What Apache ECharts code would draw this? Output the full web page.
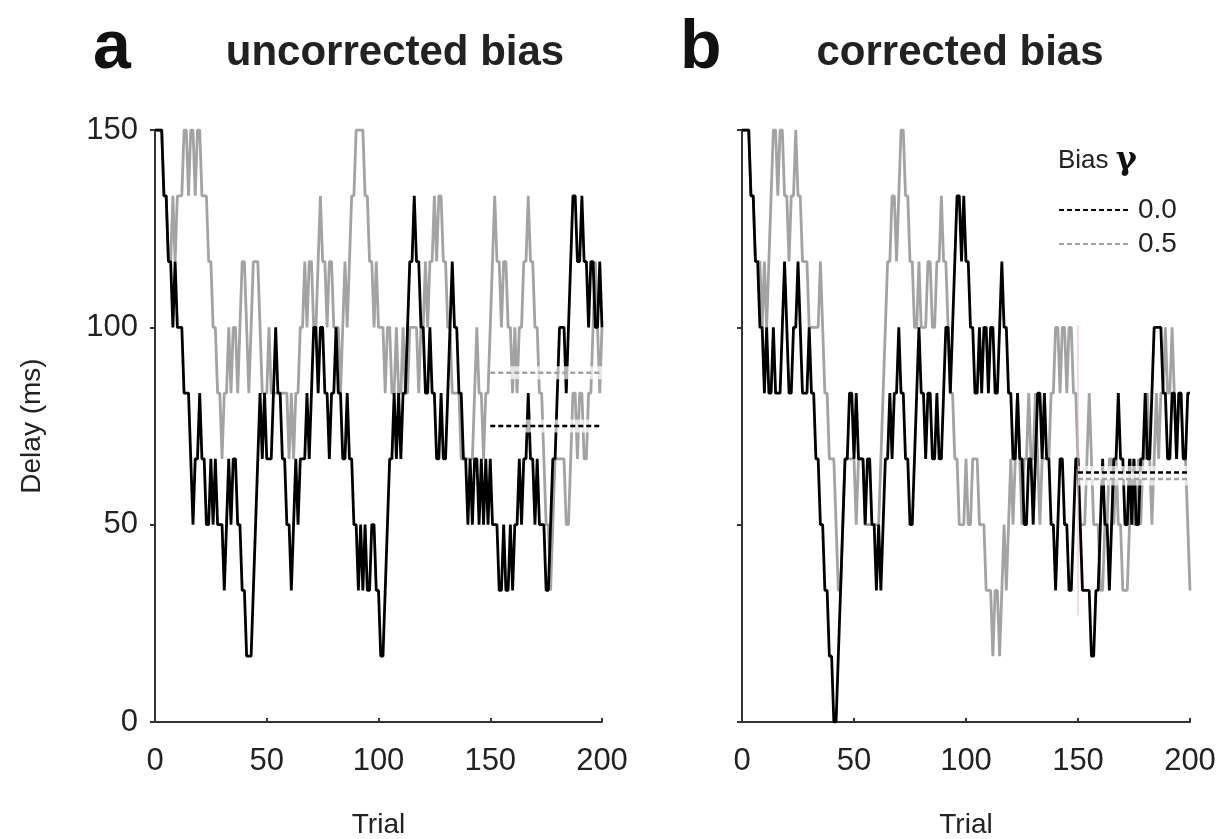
<!DOCTYPE html>
<html lang="en">
<head>
<meta charset="UTF-8">
<title>Staircase delay</title>
<script src="https://cdn.jsdelivr.net/npm/echarts@6/dist/echarts.min.js"></script>
<style>
  html, body { margin: 0; padding: 0; background: #fff; }
  #chart { width: 1220px; height: 839px; }
</style>
</head>
<body>
<div id="chart"></div>
<script>
// delay (ms) on each trial 0..200
var uncorrBias00 = [
  150,150,150,150,133.33,133.33,116.67,116.67,100,116.67,
  100,100,100,83.33,83.33,83.33,66.67,50,66.67,66.67,
  83.33,66.67,66.67,50,50,66.67,50,66.67,50,50,
  50,33.33,50,66.67,50,66.67,66.67,50,50,33.33,
  33.33,16.67,16.67,16.67,33.33,50,66.67,83.33,66.67,83.33,
  66.67,66.67,66.67,83.33,100,83.33,83.33,66.67,66.67,50,
  50,33.33,50,66.67,50,66.67,66.67,66.67,83.33,66.67,
  83.33,100,100,83.33,100,100,83.33,83.33,66.67,83.33,
  83.33,100,83.33,83.33,66.67,66.67,83.33,66.67,66.67,50,
  50,33.33,50,33.33,50,33.33,33.33,50,50,33.33,
  33.33,16.67,16.67,33.33,50,66.67,66.67,83.33,66.67,83.33,
  66.67,83.33,83.33,100,116.67,116.67,133.33,116.67,116.67,100,
  100,83.33,83.33,100,83.33,83.33,66.67,66.67,83.33,66.67,
  66.67,83.33,100,116.67,100,100,83.33,83.33,66.67,66.67,
  50,66.67,50,66.67,66.67,50,66.67,50,66.67,50,
  66.67,50,50,50,33.33,33.33,50,33.33,33.33,50,
  33.33,50,50,66.67,50,66.67,66.67,83.33,66.67,66.67,
  50,66.67,50,50,50,33.33,33.33,50,66.67,66.67,
  83.33,100,100,100,83.33,100,116.67,133.33,133.33,116.67,
  116.67,133.33,116.67,116.67,100,116.67,116.67,100,100,116.67,
  100
];
var uncorrBias05 = [
  150,150,150,150,133.33,133.33,116.67,116.67,133.33,116.67,
  133.33,133.33,133.33,150,150,133.33,150,150,133.33,150,
  150,133.33,133.33,133.33,116.67,116.67,100,100,83.33,83.33,
  66.67,83.33,83.33,100,83.33,100,100,83.33,100,116.67,
  116.67,100,83.33,100,116.67,116.67,116.67,100,83.33,83.33,
  83.33,100,83.33,83.33,83.33,83.33,83.33,83.33,83.33,83.33,
  66.67,83.33,66.67,83.33,83.33,100,100,116.67,100,116.67,
  116.67,100,100,116.67,133.33,116.67,116.67,100,116.67,116.67,
  100,100,100,83.33,100,116.67,100,116.67,133.33,133.33,
  150,150,150,150,133.33,133.33,116.67,116.67,100,116.67,
  100,100,100,83.33,100,100,83.33,83.33,100,83.33,
  83.33,100,83.33,83.33,100,100,100,100,83.33,100,
  100,116.67,100,116.67,116.67,133.33,116.67,133.33,133.33,116.67,
  116.67,100,100,83.33,83.33,83.33,83.33,66.67,66.67,66.67,
  66.67,66.67,66.67,83.33,100,83.33,83.33,66.67,83.33,83.33,
  100,116.67,133.33,116.67,116.67,100,116.67,116.67,100,100,
  83.33,100,83.33,100,100,116.67,116.67,133.33,116.67,116.67,
  100,100,83.33,83.33,66.67,50,50,33.33,50,66.67,
  66.67,66.67,66.67,66.67,50,50,66.67,83.33,83.33,66.67,
  83.33,83.33,66.67,66.67,83.33,83.33,100,116.67,100,83.33,
  100
];
var corrBias00 = [
  150,150,150,150,133.33,133.33,116.67,116.67,100,100,
  83.33,100,83.33,83.33,100,83.33,83.33,83.33,100,116.67,
  100,83.33,83.33,100,100,116.67,100,83.33,83.33,83.33,
  100,83.33,83.33,66.67,66.67,50,50,33.33,33.33,16.67,
  16.67,0,0,16.67,33.33,50,66.67,66.67,83.33,83.33,
  66.67,83.33,66.67,66.67,66.67,50,66.67,66.67,50,50,
  33.33,50,33.33,50,66.67,66.67,83.33,66.67,83.33,83.33,
  100,83.33,83.33,66.67,66.67,50,50,66.67,83.33,100,
  83.33,83.33,66.67,83.33,83.33,66.67,66.67,83.33,66.67,66.67,
  83.33,100,100,83.33,100,116.67,133.33,133.33,116.67,133.33,
  116.67,116.67,100,100,83.33,83.33,100,83.33,100,100,
  83.33,100,100,83.33,83.33,100,116.67,100,100,83.33,
  83.33,66.67,66.67,83.33,66.67,66.67,50,50,66.67,66.67,
  50,66.67,83.33,83.33,66.67,83.33,66.67,66.67,50,50,
  33.33,50,66.67,66.67,50,50,33.33,33.33,50,66.67,
  66.67,50,33.33,33.33,33.33,33.33,16.67,16.67,33.33,33.33,
  50,66.67,50,50,33.33,50,66.67,66.67,83.33,66.67,
  66.67,50,50,66.67,50,66.67,50,50,66.67,66.67,
  83.33,66.67,66.67,83.33,100,100,100,100,83.33,83.33,
  66.67,66.67,83.33,83.33,66.67,83.33,83.33,66.67,66.67,83.33,
  83.33
];
var corrBias05 = [
  150,150,150,150,133.33,133.33,116.67,116.67,116.67,100,
  116.67,100,116.67,133.33,150,150,133.33,150,150,133.33,
  133.33,116.67,133.33,133.33,150,133.33,133.33,116.67,116.67,116.67,
  100,100,100,100,100,116.67,100,83.33,83.33,66.67,
  66.67,66.67,50,33.33,33.33,50,66.67,66.67,66.67,66.67,
  66.67,50,66.67,66.67,66.67,50,50,50,50,50,
  50,50,66.67,83.33,100,116.67,116.67,133.33,133.33,116.67,
  133.33,150,150,133.33,133.33,116.67,116.67,100,100,116.67,
  100,100,100,116.67,116.67,100,100,116.67,116.67,133.33,
  116.67,116.67,100,83.33,83.33,66.67,66.67,50,50,50,
  66.67,50,50,66.67,66.67,66.67,50,50,50,33.33,
  33.33,33.33,16.67,33.33,33.33,16.67,33.33,50,33.33,50,
  66.67,50,66.67,83.33,66.67,50,66.67,66.67,83.33,66.67,
  66.67,83.33,66.67,50,66.67,66.67,66.67,66.67,83.33,83.33,
  100,100,83.33,100,100,83.33,100,100,83.33,83.33,
  66.67,50,50,50,66.67,83.33,66.67,50,50,50,
  33.33,33.33,50,50,66.67,66.67,50,66.67,50,50,
  33.33,33.33,33.33,50,66.67,50,50,66.67,50,66.67,
  66.67,83.33,66.67,50,66.67,83.33,66.67,83.33,83.33,100,
  83.33,83.33,100,83.33,66.67,83.33,83.33,66.67,66.67,50,
  33.33
];

// mean delay over the last 50 trials, [bias 0.0, bias 0.5]
var meanTrials = [150, 200];
var uncorrMean = [75, 88.5];
var corrMean = [63.2, 61.6];
// faint marker in panel b
var markerTrial = 150;
var markerRange = [27, 100.5];

var FONT = 'Liberation Sans, Arial, sans-serif';
var BLACK = '#000000';
var GRAY = '#a3a3a3';

function pairs(arr) {
    return arr.map(function (v, i) { return [i, v]; });
}

function trace(name, data, color, idx) {
    return {
        name: name, type: 'line', xAxisIndex: idx, yAxisIndex: idx,
        data: pairs(data), symbol: 'none', silent: true, z: 2,
        lineStyle: { color: color, width: 2.8 }, itemStyle: { color: color }
    };
}

function band(v, idx) {
    return {
        type: 'line', xAxisIndex: idx, yAxisIndex: idx, symbol: 'none', silent: true, z: 3,
        data: [[meanTrials[0], v], [meanTrials[1], v]],
        lineStyle: { color: '#ffffff', width: 13, opacity: 0.7, cap: 'butt' }
    };
}

function meanLine(name, v, color, idx) {
    return {
        name: name, type: 'line', xAxisIndex: idx, yAxisIndex: idx, symbol: 'none', silent: true, z: 4,
        data: [[meanTrials[0], v], [meanTrials[1], v]],
        lineStyle: { color: color, width: 2.5, type: [5, 3] },
        itemStyle: { color: color, opacity: 0 }
    };
}

function xAxis(idx) {
    return {
        type: 'value', gridIndex: idx, min: 0, max: 200, interval: 50,
        name: 'Trial', nameLocation: 'middle', nameGap: 89,
        nameTextStyle: { fontSize: 28, color: '#222', fontFamily: FONT },
        axisLine: { lineStyle: { color: '#333', width: 2 } },
        axisTick: { inside: true, length: 4, lineStyle: { color: '#333', width: 2 } },
        axisLabel: { fontSize: 31, color: '#222', margin: 24, fontFamily: FONT },
        splitLine: { show: false }
    };
}

function yAxis(idx, labelled) {
    return {
        type: 'value', gridIndex: idx, min: 0, max: 150, interval: 50,
        name: labelled ? 'Delay (ms)' : '', nameLocation: 'middle', nameGap: 109, nameRotate: 90,
        nameTextStyle: { fontSize: 28, color: '#222', fontFamily: FONT },
        axisLine: { show: true, lineStyle: { color: '#333', width: 2 } },
        axisTick: { show: true, length: 5, lineStyle: { color: '#333', width: 2 } },
        axisLabel: { show: labelled, fontSize: 31, color: '#222', margin: 17, fontFamily: FONT },
        splitLine: { show: false }
    };
}

var chart = echarts.init(document.getElementById('chart'));
var option = {
    animation: false,
    backgroundColor: '#ffffff',
    textStyle: { fontFamily: FONT },
    title: [
        { text: 'a', left: 93, top: 15, padding: 0, textStyle: { fontSize: 68, fontWeight: 'bold', color: '#111', fontFamily: FONT } },
        { text: 'uncorrected bias', left: 395, top: 32, padding: 0, textAlign: 'center', textStyle: { fontSize: 42, fontWeight: 'bold', color: '#222', fontFamily: FONT } },
        { text: 'b', left: 680, top: 15, padding: 0, textStyle: { fontSize: 68, fontWeight: 'bold', color: '#111', fontFamily: FONT } },
        { text: 'corrected bias', left: 960, top: 32, padding: 0, textAlign: 'center', textStyle: { fontSize: 42, fontWeight: 'bold', color: '#222', fontFamily: FONT } },
        {
            text: 'Bias {g|γ}', left: 1058, top: 145, padding: 0,
            textStyle: {
                fontSize: 26, fontWeight: 'normal', color: '#222', fontFamily: FONT,
                rich: { g: { fontSize: 32, fontWeight: 'bold', fontFamily: 'DejaVu Serif', color: '#111' } }
            }
        }
    ],
    legend: {
        data: ['0.0', '0.5'],
        orient: 'vertical', left: 1053, top: 191,
        itemWidth: 70, itemHeight: 14, itemGap: 6,
        itemStyle: { opacity: 0 },
        textStyle: { fontSize: 28, color: '#222', fontFamily: FONT, padding: [0, 0, 0, 4] },
        selectedMode: false
    },
    grid: [
        { left: 155, top: 130, width: 447, height: 592, outerBoundsMode: 'none' },
        { left: 742, top: 130, width: 448, height: 592, outerBoundsMode: 'none' }
    ],
    xAxis: [xAxis(0), xAxis(1)],
    yAxis: [yAxis(0, true), yAxis(1, false)],
    series: [
        trace('a 0.5', uncorrBias05, GRAY, 0),
        trace('a 0.0', uncorrBias00, BLACK, 0),
        band(uncorrMean[0], 0),
        band(uncorrMean[1], 0),
        meanLine('0.0', uncorrMean[0], BLACK, 0),
        meanLine('0.5', uncorrMean[1], GRAY, 0),

        trace('b 0.5', corrBias05, GRAY, 1),
        trace('b 0.0', corrBias00, BLACK, 1),
        {
            type: 'line', xAxisIndex: 1, yAxisIndex: 1, symbol: 'none', silent: true, z: 2,
            data: [[markerTrial, markerRange[0]], [markerTrial, markerRange[1]]],
            lineStyle: { color: '#f3b9c6', width: 1 }
        },
        band(corrMean[0], 1),
        band(corrMean[1], 1),
        meanLine('0.0', corrMean[0], BLACK, 1),
        meanLine('0.5', corrMean[1], GRAY, 1)
    ]
};
chart.setOption(option);
</script>
</body>
</html>
